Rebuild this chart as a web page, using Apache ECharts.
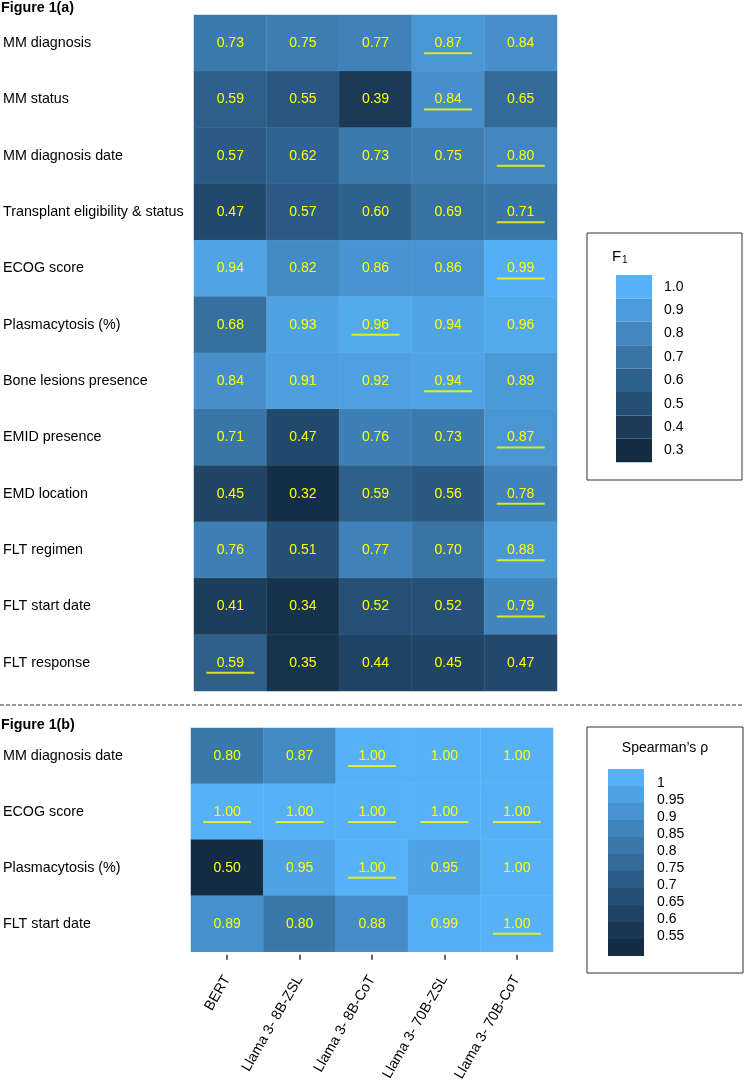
<!DOCTYPE html>
<html><head><meta charset="utf-8">
<script src="https://cdn.jsdelivr.net/npm/echarts@6/dist/echarts.min.js"></script>
<style>html,body{margin:0;padding:0;background:#fff}#c{width:744px;height:1084px}</style>
</head><body><div id="c"></div>
<script>
// ---- data ----
const models = ['BERT', 'Llama 3- 8B-ZSL', 'Llama 3- 8B-CoT', 'Llama 3- 70B-ZSL', 'Llama 3- 70B-CoT'];

const f1Tasks = ['MM diagnosis', 'MM status', 'MM diagnosis date', 'Transplant eligibility & status',
  'ECOG score', 'Plasmacytosis (%)', 'Bone lesions presence', 'EMID presence', 'EMD location',
  'FLT regimen', 'FLT start date', 'FLT response'];
const f1Values = [
  [0.73, 0.75, 0.77, 0.87, 0.84],
  [0.59, 0.55, 0.39, 0.84, 0.65],
  [0.57, 0.62, 0.73, 0.75, 0.80],
  [0.47, 0.57, 0.60, 0.69, 0.71],
  [0.94, 0.82, 0.86, 0.86, 0.99],
  [0.68, 0.93, 0.96, 0.94, 0.96],
  [0.84, 0.91, 0.92, 0.94, 0.89],
  [0.71, 0.47, 0.76, 0.73, 0.87],
  [0.45, 0.32, 0.59, 0.56, 0.78],
  [0.76, 0.51, 0.77, 0.70, 0.88],
  [0.41, 0.34, 0.52, 0.52, 0.79],
  [0.59, 0.35, 0.44, 0.45, 0.47]
];
// underlined (best) cells: [modelIndex, taskIndex]
const f1Best = [[3,0],[3,1],[4,2],[4,3],[4,4],[2,5],[3,6],[4,7],[4,8],[4,9],[4,10],[0,11]];

const rhoTasks = ['MM diagnosis date', 'ECOG score', 'Plasmacytosis (%)', 'FLT start date'];
const rhoValues = [
  [0.80, 0.87, 1.00, 1.00, 1.00],
  [1.00, 1.00, 1.00, 1.00, 1.00],
  [0.50, 0.95, 1.00, 0.95, 1.00],
  [0.89, 0.80, 0.88, 0.99, 1.00]
];
const rhoBest = [[2,0],[0,1],[1,1],[2,1],[3,1],[4,1],[2,2],[4,3]];

const f1LegendTicks = [0.3, 0.4, 0.5, 0.6, 0.7, 0.8, 0.9, 1.0];
const f1LegendLabels = ['0.3', '0.4', '0.5', '0.6', '0.7', '0.8', '0.9', '1.0'];
const rhoLegendTicks = [0.5, 0.55, 0.6, 0.65, 0.7, 0.75, 0.8, 0.85, 0.9, 0.95, 1.0];
const rhoLabelTicks = [0.55, 0.6, 0.65, 0.7, 0.75, 0.8, 0.85, 0.9, 0.95, 1.0];
const rhoLabelTexts = ['0.55', '0.6', '0.65', '0.7', '0.75', '0.8', '0.85', '0.9', '0.95', '1'];

// ---- build ----
const FONT = '"Liberation Sans", Arial, Helvetica, sans-serif';
const RAMP = ['#132B43', '#22496C', '#336A98', '#448CC6', '#56B1F7'];
const CLEAR = ['rgba(0,0,0,0)', 'rgba(0,0,0,0)'];
function toCells(vals) {
  const out = [];
  vals.forEach((row, r) => row.forEach((v, c) => out.push([c, r, v])));
  return out;
}
const chart = echarts.init(document.getElementById('c'), null, {renderer: 'canvas'});
const labelCfg = {
  show: true, color: '#ffff00', fontSize: 14, fontFamily: FONT,
  formatter: p => p.value[2].toFixed(2)
};
const legendText = {fontSize: 14, color: '#000', fontFamily: FONT};
const option = {
  animation: false,
  backgroundColor: '#fff',
  textStyle: {fontFamily: FONT},
  grid: [
    {left: 193, top: 15, width: 364, height: 676},
    {left: 190, top: 728, width: 363, height: 225}
  ],
  xAxis: [
    {type: 'category', gridIndex: 0, data: models, show: false},
    {type: 'category', gridIndex: 1, data: models, position: 'bottom', offset: 3,
     axisLine: {show: false},
     axisTick: {show: true, alignWithLabel: true, length: 5, lineStyle: {color: '#333', width: 1.5}},
     axisLabel: {rotate: 60, fontSize: 14.3, color: '#000', margin: 22, interval: 0, fontFamily: FONT},
     splitLine: {show: false}}
  ],
  yAxis: [
    {type: 'category', gridIndex: 0, data: f1Tasks, inverse: true,
     axisLine: {show: false}, axisTick: {show: false},
     axisLabel: {align: 'left', margin: 191, fontSize: 14.3, color: '#000', interval: 0, fontFamily: FONT}},
    {type: 'category', gridIndex: 1, data: rhoTasks, inverse: true,
     axisLine: {show: false}, axisTick: {show: false},
     axisLabel: {align: 'left', margin: 188, fontSize: 14.3, color: '#000', interval: 0, fontFamily: FONT}}
  ],
  visualMap: [
    {type: 'continuous', show: false, seriesIndex: 0, dimension: 2, min: 0.3, max: 1.0,
     inRange: {color: RAMP}},
    {type: 'continuous', show: false, seriesIndex: 2, dimension: 2, min: 0.5, max: 1.0,
     inRange: {color: RAMP}},
    {type: 'piecewise', seriesIndex: 4, orient: 'vertical', left: 616, top: 275, padding: 0,
     itemWidth: 36, itemHeight: 23.4, itemGap: 0, itemSymbol: 'rect', textGap: 12, align: 'left',
     pieces: f1LegendTicks.map((v, i) => ({value: v, label: f1LegendLabels[i]})),
     inRange: {color: RAMP}, textStyle: legendText},
    {type: 'piecewise', seriesIndex: 4, orient: 'vertical', left: 608, top: 769, padding: 0,
     itemWidth: 36, itemHeight: 17, itemGap: 0, itemSymbol: 'rect', showLabel: false, align: 'left',
     pieces: rhoLegendTicks.map(v => ({value: v, label: ''})),
     inRange: {color: RAMP}},
    {type: 'piecewise', seriesIndex: 4, orient: 'vertical', left: 608, top: 775, padding: 0,
     itemWidth: 36, itemHeight: 17, itemGap: 0, itemSymbol: 'rect', textGap: 13, align: 'left',
     pieces: rhoLabelTicks.map((v, i) => ({value: v, label: rhoLabelTexts[i]})),
     inRange: {color: CLEAR}, textStyle: legendText}
  ],
  series: [
    {type: 'heatmap', xAxisIndex: 0, yAxisIndex: 0, data: toCells(f1Values),
     label: labelCfg, itemStyle: {borderColor: 'rgba(255,255,255,0.06)', borderWidth: 1},
     emphasis: {disabled: true}},
    {type: 'scatter', xAxisIndex: 0, yAxisIndex: 0, data: f1Best, symbol: 'rect',
     symbolSize: [48, 2], symbolOffset: [0, 10], itemStyle: {color: '#ffff00'}, silent: true, z: 5},
    {type: 'heatmap', xAxisIndex: 1, yAxisIndex: 1, data: toCells(rhoValues),
     label: labelCfg, itemStyle: {borderColor: 'rgba(255,255,255,0.06)', borderWidth: 1},
     emphasis: {disabled: true}},
    {type: 'scatter', xAxisIndex: 1, yAxisIndex: 1, data: rhoBest, symbol: 'rect',
     symbolSize: [48, 2], symbolOffset: [0, 10], itemStyle: {color: '#ffff00'}, silent: true, z: 5},
    {type: 'scatter', xAxisIndex: 0, yAxisIndex: 0, data: [], silent: true}
  ],
  graphic: [
    {type: 'text', left: 1, top: 1, style: {text: 'Figure 1(a)', font: 'bold 14.3px ' + FONT, fill: '#000'}},
    {type: 'text', left: 1, top: 718, style: {text: 'Figure 1(b)', font: 'bold 14.3px ' + FONT, fill: '#000'}},
    {type: 'line', shape: {x1: 0, y1: 705, x2: 744, y2: 705},
     style: {stroke: '#333', lineWidth: 1.2, lineDash: [4, 2]}},
    {type: 'rect', shape: {x: 587, y: 233, width: 155, height: 247},
     style: {fill: 'none', stroke: '#333', lineWidth: 1}},
    {type: 'text', x: 612, y: 249, style: {text: 'F', font: '15px ' + FONT, fill: '#000'}},
    {type: 'text', x: 622, y: 255, style: {text: '1', font: '10px ' + FONT, fill: '#000'}},
    {type: 'rect', shape: {x: 587, y: 727, width: 156, height: 246},
     style: {fill: 'none', stroke: '#333', lineWidth: 1}},
    {type: 'text', x: 665, y: 748, style: {text: 'Spearman\u2019s \u03c1', font: '14px ' + FONT, fill: '#000',
     textAlign: 'center', textVerticalAlign: 'middle'}}
  ]
};
chart.setOption(option);
</script>
</body></html>
